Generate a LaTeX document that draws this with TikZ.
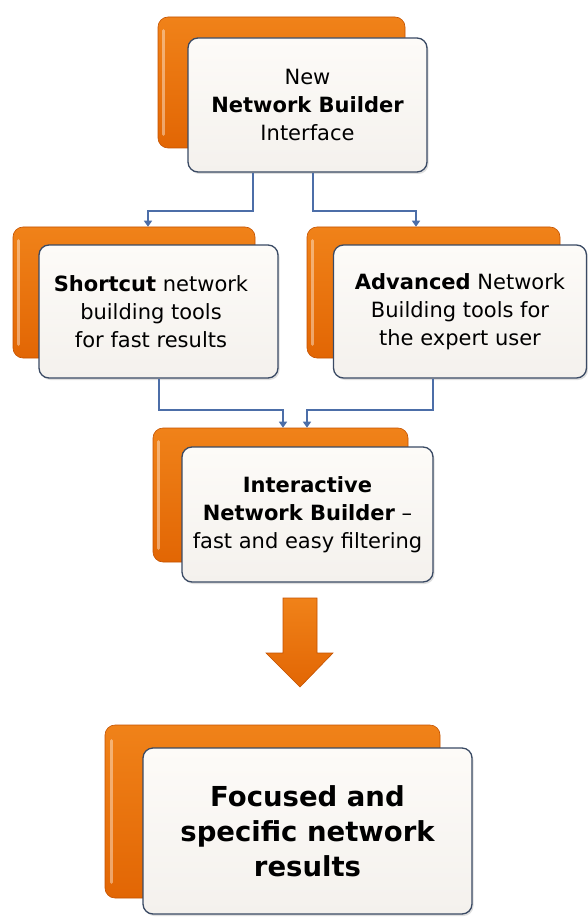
\documentclass[tikz,border=0pt]{standalone}
\usepackage{fontspec}
\setmainfont{DejaVu Sans}
\usetikzlibrary{arrows.meta,calc,shadows}
\definecolor{orL}{RGB}{240,130,25}
\definecolor{orD}{RGB}{226,102,4}
\definecolor{orE}{RGB}{196,82,0}
\definecolor{wbT}{RGB}{253,251,248}
\definecolor{wbB}{RGB}{244,241,237}
\definecolor{wbE}{RGB}{58,74,100}
\definecolor{conn}{RGB}{76,110,168}
\tikzset{
  backbox/.style={rounded corners=10pt, top color=orL, bottom color=orD, draw=orE, line width=0.6pt, inner sep=0pt},
  gloss/.style={draw=white, draw opacity=0.4, line width=3pt, line cap=round},
  frontbox/.style={rounded corners=10pt, top color=wbT, bottom color=wbB, draw=wbE, line width=1.3pt, inner sep=0pt, align=center,
     font=\fontsize{21}{28}\selectfont, drop shadow={opacity=0.25, shadow xshift=1.5pt, shadow yshift=-2pt}},
  plaintext/.style={align=center, font=\fontsize{21}{28}\selectfont},
  bigtext/.style={font=\fontsize{27.5}{35}\selectfont\bfseries},
  connector/.style={draw=conn, line width=1.8pt, -{Triangle[width=8pt,length=6pt]}},
}
\begin{document}
\begin{tikzpicture}[x=1pt,y=-1pt]
\useasboundingbox[fill=white] (0,0) rectangle (588,917);
% box 1
\node[backbox, minimum width=247, minimum height=131] (o1) at (281.5,82.5) {};
\draw[gloss] ([xshift=6,yshift=-14]o1.north west) -- ([xshift=6,yshift=14]o1.south west);
\node[frontbox, minimum width=239, minimum height=134] (w1) at (307.5,105) {New\\\textbf{Network Builder}\\Interface};
% box 2
\node[backbox, minimum width=242, minimum height=131] (o2) at (134,292.5) {};
\draw[gloss] ([xshift=6,yshift=-14]o2.north west) -- ([xshift=6,yshift=14]o2.south west);
\node[frontbox, minimum width=239, minimum height=133] (w2) at (158.5,311.5) {};
\node[plaintext] (t2) at (151,311.5) {\textbf{Shortcut} network\\building tools\\for fast results};
% box 3
\node[backbox, minimum width=253, minimum height=131] (o3) at (433.5,292.5) {};
\draw[gloss] ([xshift=6,yshift=-14]o3.north west) -- ([xshift=6,yshift=14]o3.south west);
\node[frontbox, minimum width=253, minimum height=133] (w3) at (460,311.5) {\textbf{Advanced} Network\\Building tools for\\the expert user};
% box 4
\node[backbox, minimum width=255, minimum height=134] (o4) at (280.5,495) {};
\draw[gloss] ([xshift=6,yshift=-14]o4.north west) -- ([xshift=6,yshift=14]o4.south west);
\node[frontbox, minimum width=251, minimum height=135] (w4) at (307.5,514.5) {\textbf{Interactive}\\\textbf{Network Builder} --\\fast and easy filtering};
% box 5
\node[backbox, minimum width=335, minimum height=173] (o5) at (272.5,811.5) {};
\draw[gloss] ([xshift=7,yshift=-16]o5.north west) -- ([xshift=7,yshift=16]o5.south west);
\node[frontbox, bigtext, minimum width=329, minimum height=166] (w5) at (307.5,831) {Focused and\\specific network\\results};
% connectors
\draw[connector] ([xshift=-54.5]w1.south) -- ++(0,38) -| ([xshift=14]o2.north);
\draw[connector] ([xshift=5.5]w1.south) -- ++(0,38) -| ([xshift=-17.5]o3.north);
\draw[connector] ([xshift=0.5]w2.south) -- ++(0,31) -| ([xshift=2.5]o4.north);
\draw[connector] ([xshift=-27]w3.south) -- ++(0,31) -| ([xshift=26.5]o4.north);
% big arrow
\shade[top color=orL, bottom color=orD, draw=orE, line width=0.6pt]
  (283,598) -- (317,598) -- (317,653) -- (333,653) -- (300,687) -- (266,653) -- (283,653) -- cycle;
\end{tikzpicture}
\end{document}
